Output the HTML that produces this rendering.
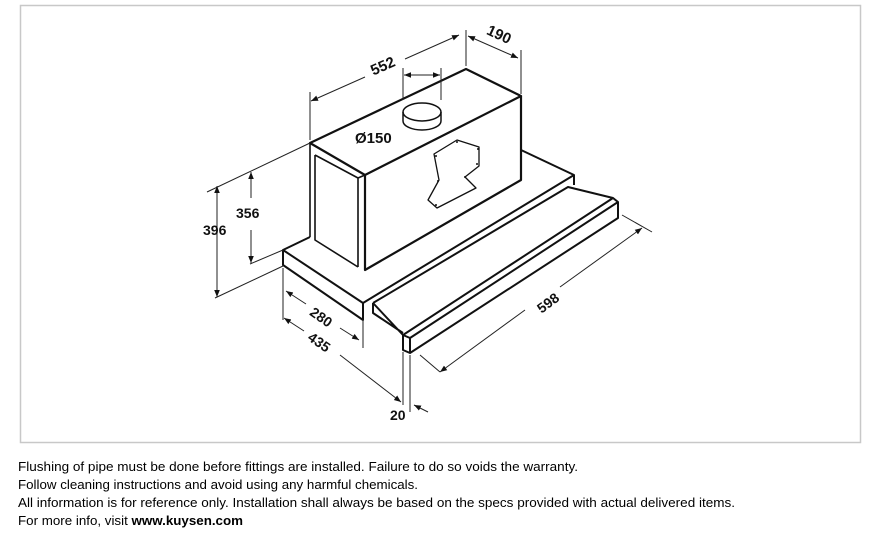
<!DOCTYPE html>
<html><head><meta charset="utf-8"><style>
html,body{margin:0;padding:0;background:#fff;}
svg{display:block;}
.t{font-family:"Liberation Sans",Arial,sans-serif;font-size:13px;fill:#000;}
.d{font-family:"Liberation Sans",Arial,sans-serif;font-size:15px;font-weight:bold;fill:#111;}
</style></head><body>
<svg width="881" height="540" viewBox="0 0 881 540" xmlns="http://www.w3.org/2000/svg">
<defs>
<marker id="a" viewBox="0 0 10 10" refX="10" refY="5" markerWidth="7" markerHeight="7" orient="auto-start-reverse"><path d="M0,1 L10,5 L0,9 z" fill="#111"/></marker>
</defs>
<rect x="20.5" y="5.5" width="840" height="437" fill="#fff" stroke="#c8c8c8" stroke-width="1.5"/>
<g fill="none" stroke="#111" stroke-linejoin="round">
<!-- box -->
<path d="M310,143 L466,69 L521,96 L365,175 Z" stroke-width="2.2" fill="#fff"/>
<path d="M521,96 L521,180 L365,270 L365,175" stroke-width="2.2"/>
<path d="M310,143 L310,237 M315,155 L315,240 L358,267 M315,155 L358,178 L358,267 M358,178 L365,175" stroke-width="1.6"/>
<!-- duct -->
<ellipse cx="422" cy="112" rx="19" ry="9" stroke-width="1.5" fill="#fff"/>
<path d="M403,112 L403,121 A19,9 0 0 0 441,121 L441,112" stroke-width="1.5"/>
<!-- plate -->
<path d="M457,140 L479,147 L479,166 L465,177 L476,188 L437,208 L428,200 L439,180 L434,154 Z" stroke-width="1.3"/>
<g fill="#111" stroke="none"><circle cx="457" cy="142" r="1"/><circle cx="478" cy="149" r="1"/><circle cx="477" cy="164" r="1"/><circle cx="465" cy="177" r="1"/><circle cx="436" cy="205" r="1"/><circle cx="438" cy="181" r="1"/><circle cx="436" cy="156" r="1"/></g>
<!-- base -->
<path d="M310,237 L283,250 L363,303 L363,320 L283,265 L283,250" stroke-width="2"/>
<path d="M521,150 L574,175 L574,185 M363,303 L574,175" stroke-width="2"/>
<!-- drawer slab -->
<path d="M373,303 L373,313 L403,333 M373,303 L568,187 L613,198 M373,303 L403,335" stroke-width="2"/>
<!-- drawer front bar -->
<path d="M403,335 L613,198 L618,202 L618,218 L410,353 L403,350 Z M410,338 L410,353 M403,335 L410,338 L618,202" stroke-width="2" fill="#fff"/>
</g>
<!-- dimension lines -->
<g fill="none" stroke="#222" stroke-width="1">
<path d="M310,140 L310,92 M466,66 L466,30 M521,94 L521,50 M403,100 L403,68 M441,100 L441,68"/>
<path d="M311,101 L365,77" marker-start="url(#a)"/><path d="M405,59 L459,35" marker-end="url(#a)"/>
<path d="M468,36 L518,58" marker-start="url(#a)" marker-end="url(#a)"/>
<path d="M404,75 L440,75" marker-start="url(#a)" marker-end="url(#a)"/>
<path d="M207,192 L310,143 M215,298 L283,266 M250,264 L283,250"/>
<path d="M217,186 L217,297" marker-start="url(#a)" marker-end="url(#a)"/>
<path d="M251,198 L251,172" marker-end="url(#a)"/><path d="M251,230 L251,263" marker-end="url(#a)"/>
<path d="M283,268 L283,320 M363,320 L363,348 M403,352 L403,405 M410,355 L410,412"/>
<path d="M286,291 L306,304" marker-start="url(#a)"/><path d="M340,328 L359,340" marker-end="url(#a)"/>
<path d="M284,318 L304,331" marker-start="url(#a)"/><path d="M340,355 L401,402" marker-end="url(#a)"/>
<path d="M428,412 L414,405" marker-end="url(#a)"/>
<path d="M420,355 L440,372 M622,215 L652,232"/>
<path d="M440,372 L525,310" marker-start="url(#a)"/><path d="M560,287 L642,228" marker-end="url(#a)"/>
</g>
<g class="d">
<text x="370" y="70" transform="rotate(-24 385 65)">552</text>
<text x="486" y="40" transform="rotate(25 500 36)">190</text>
<text x="355" y="143">Ø150</text>
<text x="203" y="235" font-size="14">396</text>
<text x="236" y="218" font-size="14">356</text>
<text x="308" y="323" transform="rotate(35 322 320)" font-size="14">280</text>
<text x="306" y="348" transform="rotate(35 320 345)" font-size="14">435</text>
<text x="535" y="306" transform="rotate(-37 550 300)" font-size="14">598</text>
<text x="390" y="420" font-size="14">20</text>
</g>
<g class="t">
<text x="18" y="471" textLength="560" lengthAdjust="spacingAndGlyphs">Flushing of pipe must be done before fittings are installed. Failure to do so voids the warranty.</text>
<text x="18" y="489" textLength="400" lengthAdjust="spacingAndGlyphs">Follow cleaning instructions and avoid using any harmful chemicals.</text>
<text x="18" y="507" textLength="717" lengthAdjust="spacingAndGlyphs">All information is for reference only. Installation shall always be based on the specs provided with actual delivered items.</text>
<text x="18" y="525" textLength="225" lengthAdjust="spacingAndGlyphs">For more info, visit <tspan font-weight="bold">www.kuysen.com</tspan></text>
</g>
</svg>
</body></html>
